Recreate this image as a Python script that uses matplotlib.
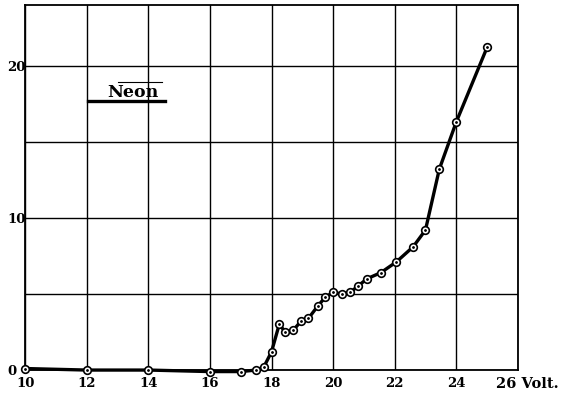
import matplotlib.pyplot as plt
from matplotlib.lines import Line2D

# Neon: current vs. accelerating voltage
volts = [10, 12, 14, 16, 17.0, 17.5, 17.75, 18.0, 18.25, 18.45, 18.7, 18.95,
         19.2, 19.5, 19.75, 20.0, 20.3, 20.55, 20.8, 21.1, 21.55, 22.05,
         22.6, 23.0, 23.45, 24.0, 25.0]
current = [0.1, 0.0, 0.0, -0.1, -0.1, 0.0, 0.2, 1.2, 3.0, 2.5, 2.6, 3.2,
           3.4, 4.2, 4.8, 5.1, 5.0, 5.1, 5.5, 6.0, 6.4, 7.1,
           8.1, 9.2, 13.2, 16.3, 21.2]

x_ticks = [10, 12, 14, 16, 18, 20, 22, 24, 26]
x_labels = ["10", "12", "14", "16", "18", "20", "22", "24", ""]
unit_label = "26 Volt."
y_ticks = [0, 10, 20]
y_grid = [0, 5, 10, 15, 20]

fig = plt.figure(figsize=(5.61, 4.08), dpi=100)
ax = fig.add_axes([0.045, 0.093, 0.878, 0.895])
ax.set_xlim(10, 26)
ax.set_ylim(0, 24)

for v in x_ticks:
    ax.axvline(v, color="black", lw=1.0, zorder=1)
for v in y_grid:
    ax.axhline(v, color="black", lw=1.0, zorder=1)
for s in ax.spines.values():
    s.set_linewidth(1.3)

ax.plot(volts, current, color="black", lw=2.4, zorder=3, clip_on=False)
ax.plot(volts, current, ls="none", marker="o", ms=5.5, mfc="white",
        mec="black", mew=1.2, zorder=4, clip_on=False)
ax.plot(volts, current, ls="none", marker=".", ms=2, color="black",
        zorder=5, clip_on=False)

font = dict(fontfamily="DejaVu Serif", fontweight="bold", fontsize=9.5)
ax.set_xticks(x_ticks)
ax.set_xticklabels(x_labels, **font)
ax.set_yticks(y_ticks)
ax.set_yticklabels([str(t) for t in y_ticks], ha="left", **font)
ax.tick_params(axis="x", length=0, pad=5)
ax.tick_params(axis="y", length=0, pad=13)

ax.annotate(unit_label, xy=(26, 0), xytext=(7, -5), textcoords="offset points",
            ha="center", va="top", fontfamily="DejaVu Serif",
            fontweight="bold", fontsize=10.5, annotation_clip=False)

# "Neon" label with rules
ax.text(13.5, 17.95, "Neon", ha="center", va="baseline", fontsize=12.5,
        fontfamily="DejaVu Serif", fontweight="bold", zorder=6)
ax.add_line(Line2D([12.05, 14.55], [17.7, 17.7], color="black", lw=2.4, zorder=7))
ax.add_line(Line2D([13.0, 14.45], [18.95, 18.95], color="black", lw=0.8, zorder=7))

fig.savefig("out.png", dpi=100)
